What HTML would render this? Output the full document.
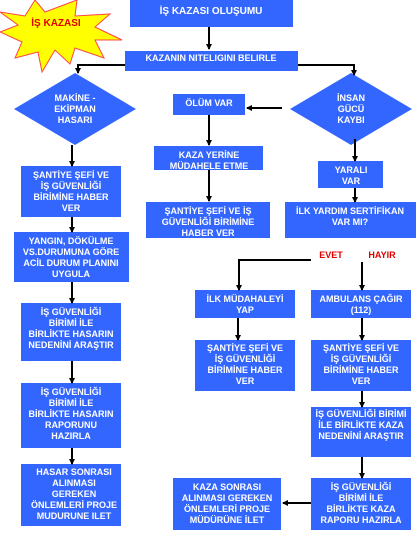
<!DOCTYPE html>
<html><head><meta charset="utf-8"><style>
body{margin:0;background:#fff}
svg text{font-family:"Liberation Sans",Arial,sans-serif;font-weight:bold;font-size:9px;fill:#fff;text-anchor:middle}
</style></head><body>
<svg width="417" height="532" xmlns="http://www.w3.org/2000/svg">
<defs><marker id="a" markerWidth="6" markerHeight="6" refX="3" refY="5" orient="auto-start-reverse" markerUnits="userSpaceOnUse"><path d="M0,0 L6,0 L3,6 z" fill="#000"/></marker>
<marker id="b" viewBox="0 0 6 6" markerWidth="6" markerHeight="6" refX="5" refY="3" orient="auto" markerUnits="userSpaceOnUse"><path d="M0,0 L6,3 L0,6 z" fill="#000"/></marker></defs>
<polygon fill="#ffff00" stroke="#ff4444" stroke-width="1" points="
0,12 25,16 35,0 45,12 77,0 75,16 110,14 95,27 122,40 95,40 104,58 75,48 70,64 55,50 42,72 38,52 15,58 22,42 0,32 18,25"/>
<text x="56" y="26" style="fill:#e00000;font-size:10px">İŞ KAZASI</text>
<g fill="#3366ff">
<rect x="130" y="0" width="163" height="27"/>
<rect x="125" y="51" width="173" height="20"/>
<polygon points="75,73 136,109 75,145 14,109"/>
<polygon points="351,73 412,109 351,145 290,109"/>
<rect x="173" y="94" width="72" height="21"/>
<rect x="154" y="146" width="109" height="24"/>
<rect x="146" y="202" width="124" height="36"/>
<rect x="318" y="161" width="65" height="27"/>
<rect x="285" y="202" width="131" height="36"/>
<rect x="195" y="290" width="100" height="28"/>
<rect x="311" y="290" width="100" height="28"/>
<rect x="195" y="340" width="100" height="51"/>
<rect x="311" y="340" width="100" height="51"/>
<rect x="311" y="407" width="100" height="50"/>
<rect x="311" y="478" width="100" height="52"/>
<rect x="173" y="478" width="108" height="52"/>
<rect x="21" y="166" width="100" height="51"/>
<rect x="14" y="232" width="115" height="50"/>
<rect x="21" y="303" width="100" height="58"/>
<rect x="21" y="383" width="100" height="65"/>
<rect x="21" y="464" width="100" height="62"/>
</g>
<g stroke="#000" stroke-width="2" fill="none">
<path d="M209,27 V49" marker-end="url(#b)"/>
<path d="M125,65 H78 V73" marker-end="url(#b)"/>
<path d="M298,65 H354 V75" marker-end="url(#b)"/>
<path d="M282,108 H247" marker-end="url(#b)"/>
<path d="M209,115 V145" marker-end="url(#b)"/>
<path d="M209,170 V201" marker-end="url(#b)"/>
<path d="M355,139 V161" marker-end="url(#b)"/>
<path d="M355,188 V202" marker-end="url(#b)"/>
<path d="M311,260 H239 V290" marker-end="url(#b)"/>
<path d="M362,262 V290" marker-end="url(#b)"/>
<path d="M238,318 V340" marker-end="url(#b)"/>
<path d="M362,318 V340" marker-end="url(#b)"/>
<path d="M362,391 V407" marker-end="url(#b)"/>
<path d="M362,457 V478" marker-end="url(#b)"/>
<path d="M311,503 H283" marker-end="url(#b)"/>
<path d="M72,145 V166" marker-end="url(#b)"/>
<path d="M72,217 V232" marker-end="url(#b)"/>
<path d="M72,282 V303" marker-end="url(#b)"/>
<path d="M72,361 V383" marker-end="url(#b)"/>
<path d="M72,448 V464" marker-end="url(#b)"/>
</g>
<text x="211" y="14" style="font-size:10px">İŞ KAZASI OLUŞUMU</text>
<text x="211" y="61">KAZANIN NITELIGINI BELIRLE</text>
<text x="75" y="101">MAKİNE -</text><text x="75" y="112">EKİPMAN</text><text x="75" y="123">HASARI</text>
<text x="351" y="101">İNSAN</text><text x="351" y="112">GÜCÜ</text><text x="351" y="123">KAYBI</text>
<text x="209" y="106">ÖLÜM VAR</text>
<text x="209" y="158">KAZA YERİNE</text><text x="209" y="169">MÜDAHELE ETME</text>
<text x="208" y="214">ŞANTİYE ŞEFİ VE  İŞ</text><text x="208" y="225">GÜVENLİĞİ BİRİMİNE</text><text x="208" y="236">HABER VER</text>
<text x="351" y="173">YARALI</text><text x="351" y="184">VAR</text>
<text x="350" y="214">İLK YARDIM SERTİFİKAN</text><text x="350" y="225">VAR MI?</text>
<text x="331" y="258" style="fill:#e00000">EVET</text>
<text x="382" y="258" style="fill:#e00000">HAYIR</text>
<text x="245" y="302">İLK MÜDAHALEYİ</text><text x="245" y="313">YAP</text>
<text x="361" y="302">AMBULANS ÇAĞIR</text><text x="361" y="313">(112)</text>
<text x="245" y="351">ŞANTİYE ŞEFİ VE</text><text x="245" y="362">İŞ GÜVENLİĞİ</text><text x="245" y="373">BİRİMİNE HABER</text><text x="245" y="384">VER</text>
<text x="361" y="351">ŞANTİYE ŞEFİ VE</text><text x="361" y="362">İŞ GÜVENLİĞİ</text><text x="361" y="373">BİRİMİNE HABER</text><text x="361" y="384">VER</text>
<text x="361" y="417">İŞ GÜVENLİĞİ BİRİMİ</text><text x="361" y="428">İLE BİRLİKTE KAZA</text><text x="361" y="439">NEDENİNİ ARAŞTIR</text>
<text x="361" y="490">İŞ GÜVENLİĞİ</text><text x="361" y="501">BİRİMİ İLE</text><text x="361" y="512">BİRLİKTE KAZA</text><text x="361" y="523">RAPORU HAZIRLA</text>
<text x="227" y="490">KAZA SONRASI</text><text x="227" y="501">ALINMASI GEREKEN</text><text x="227" y="512">ÖNLEMLERİ PROJE</text><text x="227" y="523">MÜDÜRÜNE İLET</text>
<text x="71" y="178">ŞANTİYE ŞEFİ VE</text><text x="71" y="189">İŞ GÜVENLİĞİ</text><text x="71" y="200">BİRİMİNE  HABER</text><text x="71" y="211">VER</text>
<text x="71" y="244">YANGIN, DÖKÜLME</text><text x="71" y="255">VS.DURUMUNA GÖRE</text><text x="71" y="266">ACİL DURUM PLANINI</text><text x="71" y="277">UYGULA</text>
<text x="71" y="315">İŞ GÜVENLİĞİ</text><text x="71" y="326">BİRİMİ İLE</text><text x="71" y="337">BİRLİKTE HASARIN</text><text x="71" y="348">NEDENİNİ ARAŞTIR</text>
<text x="71" y="395">İŞ GÜVENLİĞİ</text><text x="71" y="406">BİRİMİ İLE</text><text x="71" y="417">BİRLİKTE HASARIN</text><text x="71" y="428">RAPORUNU</text><text x="71" y="439">HAZIRLA</text>
<text x="74" y="475">HASAR SONRASI</text><text x="74" y="486">ALINMASI</text><text x="74" y="497">GEREKEN</text><text x="74" y="508">ÖNLEMLERİ PROJE</text><text x="74" y="519">MUDURUNE ILET</text>
</g>
</svg>
</body></html>
